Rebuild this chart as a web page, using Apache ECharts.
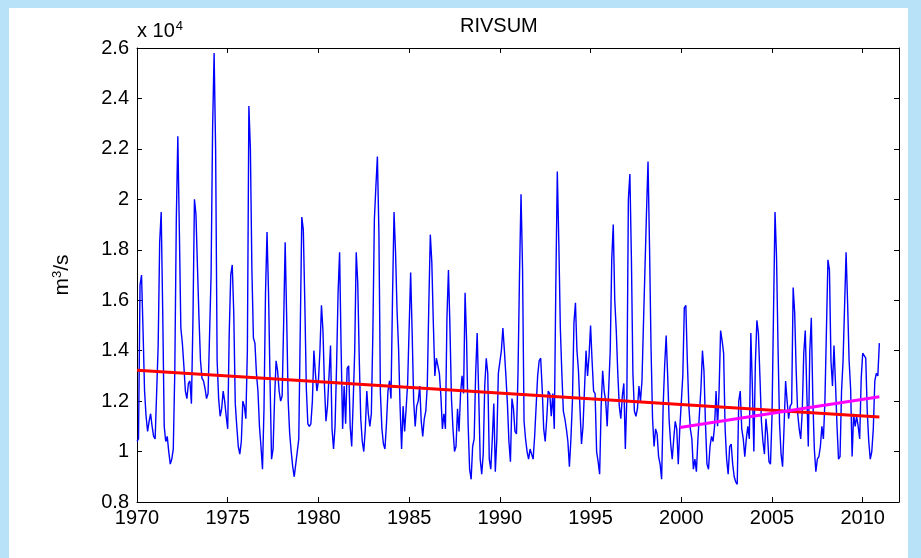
<!DOCTYPE html>
<html>
<head>
<meta charset="utf-8">
<script src="https://cdn.jsdelivr.net/npm/echarts@6/dist/echarts.min.js"></script>
<style>
html,body{margin:0;padding:0;background:#b7e2f8;}
#frame{position:absolute;left:9px;top:8px;width:899px;height:550px;background:#ffffff;}
#chart{position:absolute;left:0;top:0;width:921px;height:558px;}
</style>
</head>
<body>
<div id="frame"></div>
<div id="chart"></div>
<script>
// Monthly RIVSUM flow, units of 10^4 m3/s, January 1970 .. December 2010
const startYear = 1970;
const flow = [
1.04,1.05,1.66,1.70,1.48,1.24,1.14,1.08,1.12,1.15,1.10,1.06,
1.05,1.05,1.42,1.83,1.95,1.56,1.10,1.04,1.06,1.00,0.95,0.97,
1.01,1.32,1.92,2.25,1.88,1.49,1.43,1.34,1.24,1.21,1.27,1.28,
1.19,1.52,2.00,1.94,1.73,1.53,1.36,1.29,1.28,1.25,1.21,1.23,
1.23,1.70,2.28,2.58,2.20,1.36,1.21,1.14,1.17,1.24,1.20,1.14,
1.09,1.47,1.70,1.74,1.55,1.19,1.10,1.02,0.99,1.04,1.20,1.18,
1.13,1.40,2.37,2.20,1.72,1.45,1.43,1.31,1.24,1.10,1.02,0.93,
1.17,1.63,1.87,1.63,1.28,0.97,1.01,1.21,1.36,1.32,1.24,1.20,
1.22,1.51,1.83,1.53,1.20,1.07,1.00,0.94,0.90,0.95,1.00,1.05,
1.05,1.93,1.88,1.59,1.25,1.11,1.10,1.11,1.20,1.40,1.31,1.24,
1.28,1.40,1.58,1.48,1.26,1.12,1.18,1.30,1.42,1.09,1.01,1.10,
1.34,1.63,1.79,1.41,1.09,1.26,1.11,1.33,1.34,1.10,1.02,1.20,
1.40,1.79,1.67,1.37,1.13,1.04,1.00,1.09,1.24,1.15,1.10,1.15,
1.47,1.92,2.05,2.17,1.87,1.23,1.09,1.03,1.01,1.11,1.24,1.28,
1.21,1.61,1.95,1.79,1.56,1.41,1.18,1.01,1.18,1.08,1.17,1.27,
1.27,1.71,1.47,1.20,1.10,1.18,1.20,1.26,1.12,1.06,1.13,1.16,
1.26,1.58,1.86,1.75,1.51,1.30,1.37,1.37,1.31,1.22,1.09,1.15,
1.09,1.53,1.72,1.49,1.21,1.09,1.00,1.02,1.17,1.08,1.23,1.30,
1.23,1.63,1.44,1.11,0.93,0.89,1.02,1.05,1.31,1.47,1.23,0.97,
0.91,0.99,1.26,1.37,1.31,0.97,0.93,1.05,1.19,0.92,1.05,1.31,
1.31,1.40,1.49,1.40,1.30,1.19,1.04,0.96,1.21,1.17,1.08,1.07,
1.31,1.70,2.02,1.73,1.12,1.05,1.00,0.97,1.01,0.99,0.97,1.06,
1.18,1.30,1.36,1.37,1.25,1.09,1.04,1.13,1.24,1.23,1.14,1.23,
1.09,1.65,2.11,1.83,1.49,1.31,1.16,1.13,1.09,1.04,0.94,1.05,
1.20,1.51,1.59,1.40,1.32,1.17,1.03,1.10,1.25,1.40,1.30,1.38,
1.50,1.36,1.24,1.23,1.00,0.96,0.91,1.18,1.32,1.24,1.20,1.10,
1.10,1.40,1.76,1.90,1.60,1.48,1.31,1.18,1.13,1.22,1.27,1.01,
1.22,2.00,2.10,1.77,1.31,1.16,1.14,1.17,1.26,1.20,1.28,1.51,
1.51,1.95,2.15,1.81,1.41,1.13,1.02,1.09,1.07,0.98,0.95,0.89,
1.18,1.34,1.46,1.30,1.12,1.03,0.97,1.05,1.12,1.09,0.95,1.09,
1.09,1.30,1.57,1.58,1.36,1.18,1.09,1.05,0.93,0.97,0.92,1.05,
1.15,1.25,1.40,1.32,1.11,0.95,0.93,1.02,1.06,1.04,1.10,1.24,
1.10,1.24,1.48,1.44,1.39,1.09,0.97,0.91,1.02,1.03,0.95,0.90,
0.88,0.87,1.20,1.24,1.09,1.05,0.98,1.05,1.10,1.05,1.47,1.26,
1.00,1.35,1.52,1.47,1.30,1.12,1.04,0.99,1.13,1.07,0.96,0.95,
1.14,1.55,1.95,1.77,1.41,1.11,0.99,0.94,1.10,1.28,1.20,1.13,
1.18,1.19,1.65,1.55,1.32,1.15,1.09,1.05,1.16,1.39,1.48,1.24,
1.02,1.40,1.53,1.21,1.01,0.92,0.97,0.98,1.02,1.10,1.05,1.20,
1.48,1.76,1.72,1.36,1.26,1.42,1.27,1.10,0.97,0.98,1.24,1.36,
1.36,1.79,1.59,1.36,1.25,0.98,1.15,1.10,1.14,1.10,1.05,1.29,
1.39,1.39,1.37,1.16,1.04,0.97,1.00,1.09,1.28,1.31,1.30,1.43
];
// Linear trend lines (endpoints)
const trendAll = [[1970, 1.322], [2010.92, 1.137]];
const trendRecent = [[1999.92, 1.095], [2010.92, 1.217]];
const xTicks = [1970, 1975, 1980, 1985, 1990, 1995, 2000, 2005, 2010];

const flowData = flow.map((v, i) => [startYear + i / 12, v]);

const FONT = 'Liberation Sans, Arial, sans-serif';
const chart = echarts.init(document.getElementById('chart'), null, {renderer: 'canvas'});
const axisLine = {show: true, lineStyle: {color: '#000', width: 1}};
const tick = {show: true, inside: true, length: 5, lineStyle: {color: '#000', width: 1}};
const xBase = {type: 'value', min: 1970, max: 2012, interval: 5, axisLine, axisTick: tick, splitLine: {show: false}};
const yBase = {type: 'value', min: 0.8, max: 2.6, interval: 0.2, axisLine, axisTick: tick, splitLine: {show: false}};

chart.setOption({
  animation: false,
  backgroundColor: 'transparent',
  grid: {left: 137, right: 22, top: 48, bottom: 56, containLabel: false},
  xAxis: [
    Object.assign({}, xBase, {position: 'bottom',
      axisLabel: {color: '#000', fontFamily: FONT, fontSize: 20, margin: 6,
        formatter: v => (xTicks.indexOf(Math.round(v)) >= 0 && Math.abs(v - Math.round(v)) < 1e-6) ? String(Math.round(v)) : ''}}),
    Object.assign({}, xBase, {position: 'top', axisLabel: {show: false}})
  ],
  yAxis: [
    Object.assign({}, yBase, {position: 'left',
      name: '{a|m}{b|3}{a|/s}', nameLocation: 'middle', nameRotate: 90, nameGap: 64,
      nameTextStyle: {color: '#000', fontFamily: FONT, rich: {a: {fontSize: 21, fontFamily: FONT, color: '#000'}, b: {fontSize: 13, fontFamily: FONT, color: '#000', verticalAlign: 'top', padding: [0, 0, 9, 0]}}},
      axisLabel: {color: '#000', fontFamily: FONT, fontSize: 20, margin: 8,
        formatter: v => String(+(+v).toFixed(1))}}),
    Object.assign({}, yBase, {position: 'right', axisLabel: {show: false}})
  ],
  graphic: [
    {type: 'text', left: 460, top: 16, style: {text: 'RIVSUM', fontFamily: FONT, fontSize: 20, fill: '#000'}},
    {type: 'text', left: 137, top: 20, style: {text: '{a|x 10}{b|4}', rich: {a: {fontFamily: FONT, fontSize: 20, color: '#000'}, b: {fontFamily: FONT, fontSize: 13, color: '#000', verticalAlign: 'top', padding: [0, 0, 10, 1]}}}}
  ],
  series: [
    {type: 'line', data: flowData, showSymbol: false, symbol: 'none', lineStyle: {color: '#0000ff', width: 1.4}, z: 2},
    {type: 'line', data: trendAll, showSymbol: false, symbol: 'none', lineStyle: {color: '#ff0000', width: 3}, z: 3},
    {type: 'line', data: trendRecent, showSymbol: false, symbol: 'none', lineStyle: {color: '#ff00ff', width: 3}, z: 4}
  ]
});
</script>
</body>
</html>
